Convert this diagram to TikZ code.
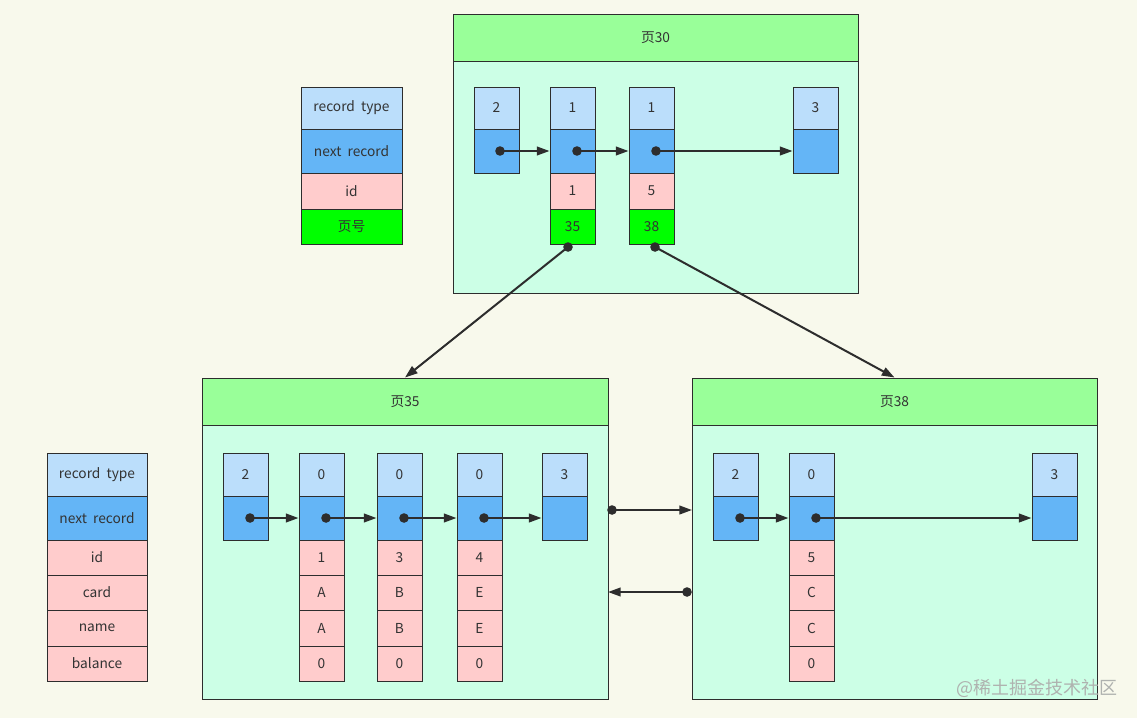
\documentclass[tikz,border=0pt]{standalone}
\usepackage{fontspec}
\setmainfont{Noto Sans CJK SC}
\usetikzlibrary{arrows.meta}
\definecolor{bg}{RGB}{248,249,236}
\definecolor{hdr}{RGB}{153,255,153}
\definecolor{pg}{RGB}{204,255,230}
\definecolor{lb}{RGB}{187,222,251}
\definecolor{bl}{RGB}{100,181,246}
\definecolor{pk}{RGB}{255,204,204}
\definecolor{gr}{RGB}{0,255,0}
\definecolor{ln}{RGB}{45,45,45}
\definecolor{tx}{RGB}{51,51,51}
\definecolor{wm}{RGB}{175,178,175}
\newcommand\cellat[7]{\node[cell,fill=#6,minimum width={(#4-#2)*0.75pt},minimum height={(#5-#3)*0.75pt}] (#1) at ({(#2+#4)/2},{(#3+#5)/2}) {#7};}
\tikzset{
  cell/.style={draw=ln, line width=0.75pt, rectangle, inner sep=0pt, text=tx, font=\fontsize{10.3}{12}\selectfont},
  ptr/.style={draw=ln, line width=1.5pt, -{Triangle[length=9.5pt,width=6.5pt]}},
  dot/.style={fill=ln}
}
\begin{document}
\begin{tikzpicture}[x=0.75pt,y=-0.75pt]
\fill[bg] (0,0) rectangle (1137,718);
\useasboundingbox (0,0) rectangle (1137,718);
% ---- page 30
\cellat{h30}{453}{14}{858}{61}{hdr}{页30}
\cellat{b30}{453}{61}{858}{293}{pg}{}
\cellat{a1t}{474}{87}{519}{129}{lb}{2}
\cellat{a1n}{474}{129}{519}{173}{bl}{}
\cellat{a2t}{550}{87}{595}{129}{lb}{1}
\cellat{a2n}{550}{129}{595}{173}{bl}{}
\cellat{a2i}{550}{173}{595}{209}{pk}{1}
\cellat{a2p}{550}{209}{595}{244}{gr}{35}
\cellat{a3t}{629}{87}{674}{129}{lb}{1}
\cellat{a3n}{629}{129}{674}{173}{bl}{}
\cellat{a3i}{629}{173}{674}{209}{pk}{5}
\cellat{a3p}{629}{209}{674}{244}{gr}{38}
\cellat{a4t}{793}{87}{838}{129}{lb}{3}
\cellat{a4n}{793}{129}{838}{173}{bl}{}
% ---- legend top
\cellat{l1a}{301}{87}{402}{129}{lb}{record\ \ type}
\cellat{l1b}{301}{129}{402}{173}{bl}{next\ \ record}
\cellat{l1c}{301}{173}{402}{209}{pk}{id}
\cellat{l1d}{301}{209}{402}{244}{gr}{页号}
% ---- page 35
\cellat{h35}{202}{378}{608}{425}{hdr}{页35}
\cellat{b35}{202}{425}{608}{699}{pg}{}
\cellat{c1t}{223}{453}{268}{496}{lb}{2}
\cellat{c1n}{223}{496}{268}{540}{bl}{}
\cellat{c2t}{299}{453}{344}{496}{lb}{0}
\cellat{c2n}{299}{496}{344}{540}{bl}{}
\cellat{c2a}{299}{540}{344}{575}{pk}{1}
\cellat{c2b}{299}{575}{344}{610}{pk}{A}
\cellat{c2c}{299}{610}{344}{646}{pk}{A}
\cellat{c2d}{299}{646}{344}{681}{pk}{0}
\cellat{c3t}{377}{453}{422}{496}{lb}{0}
\cellat{c3n}{377}{496}{422}{540}{bl}{}
\cellat{c3a}{377}{540}{422}{575}{pk}{3}
\cellat{c3b}{377}{575}{422}{610}{pk}{B}
\cellat{c3c}{377}{610}{422}{646}{pk}{B}
\cellat{c3d}{377}{646}{422}{681}{pk}{0}
\cellat{c4t}{457}{453}{502}{496}{lb}{0}
\cellat{c4n}{457}{496}{502}{540}{bl}{}
\cellat{c4a}{457}{540}{502}{575}{pk}{4}
\cellat{c4b}{457}{575}{502}{610}{pk}{E}
\cellat{c4c}{457}{610}{502}{646}{pk}{E}
\cellat{c4d}{457}{646}{502}{681}{pk}{0}
\cellat{c5t}{542}{453}{587}{496}{lb}{3}
\cellat{c5n}{542}{496}{587}{540}{bl}{}
% ---- page 38
\cellat{h38}{692}{378}{1097}{425}{hdr}{页38}
\cellat{b38}{692}{425}{1097}{699}{pg}{}
\cellat{e1t}{713}{453}{758}{496}{lb}{2}
\cellat{e1n}{713}{496}{758}{540}{bl}{}
\cellat{e2t}{789}{453}{834}{496}{lb}{0}
\cellat{e2n}{789}{496}{834}{540}{bl}{}
\cellat{e2a}{789}{540}{834}{575}{pk}{5}
\cellat{e2b}{789}{575}{834}{610}{pk}{C}
\cellat{e2c}{789}{610}{834}{646}{pk}{C}
\cellat{e2d}{789}{646}{834}{681}{pk}{0}
\cellat{e3t}{1032}{453}{1077}{496}{lb}{3}
\cellat{e3n}{1032}{496}{1077}{540}{bl}{}
% ---- legend bottom
\cellat{l2a}{47}{453}{147}{496}{lb}{record\ \ type}
\cellat{l2b}{47}{496}{147}{540}{bl}{next\ \ record}
\cellat{l2c}{47}{540}{147}{575}{pk}{id}
\cellat{l2d}{47}{575}{147}{610}{pk}{card}
\cellat{l2e}{47}{610}{147}{646}{pk}{name}
\cellat{l2f}{47}{646}{147}{681}{pk}{balance}
% ---- dot coordinates
\coordinate (d1) at (500,151);
\coordinate (d2) at (577,151);
\coordinate (d3) at (656,151);
\coordinate (d4) at (568,247);
\coordinate (d5) at (655,247);
\coordinate (f1) at (250,518);
\coordinate (f2) at (326,518);
\coordinate (f3) at (404,518);
\coordinate (f4) at (484,518);
\coordinate (g1) at (740,518);
\coordinate (g2) at (816,518);
\coordinate (x1) at (612,510);
\coordinate (x2) at (692,510);
\coordinate (y1) at (687,592);
\coordinate (y2) at (608,592);
% ---- arrows
\draw[ptr] (d1) -- (d1 -| a2n.west);
\draw[ptr] (d2) -- (d2 -| a3n.west);
\draw[ptr] (d3) -- (d3 -| a4n.west);
\draw[ptr] (d4) -- (h35.north);
\draw[ptr] (d5) -- (h38.north);
\draw[ptr] (f1) -- (f1 -| c2n.west);
\draw[ptr] (f2) -- (f2 -| c3n.west);
\draw[ptr] (f3) -- (f3 -| c4n.west);
\draw[ptr] (f4) -- (f4 -| c5n.west);
\draw[ptr] (g1) -- (g1 -| e2n.west);
\draw[ptr] (g2) -- (g2 -| e3n.west);
\draw[ptr] (x1) -- (x2);
\draw[ptr] (y1) -- (y2);
\foreach \d in {d1,d2,d3,d4,d5,f1,f2,f3,f4,g1,g2,x1,y1}
  \fill[dot] (\d) circle[radius=3.6pt];
% ---- watermark
\node[text=wm, font=\fontsize{13.5}{15}\selectfont, inner sep=0pt] (wmk) at (1037,688) {@稀土掘金技术社区};
\end{tikzpicture}
\end{document}
